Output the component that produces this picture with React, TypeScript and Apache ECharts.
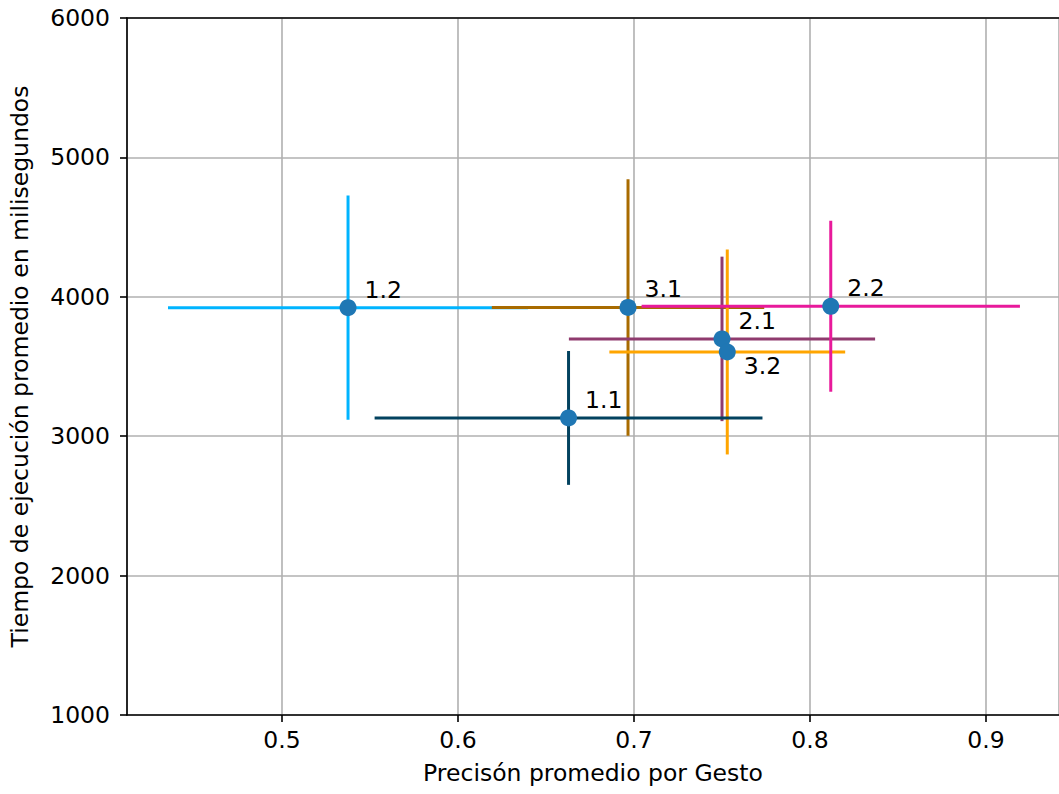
import React, { useEffect, useRef } from "react";
import * as echarts from "echarts";

const gestures = ["1.1", "1.2", "2.1", "2.2", "3.1", "3.2"];
const precision = [0.6628, 0.5375, 0.7500, 0.8118, 0.6966, 0.7530];
const precisionErr = [0.1102, 0.1023, 0.0870, 0.1075, 0.0774, 0.0670];
const timeMs = [3131, 3922, 3698, 3932, 3924, 3604];
const timeErr = [480, 804, 590, 613, 920, 735];
const barColors = ["#03425f", "#00b4ff", "#8f3b6e", "#e8199b", "#a86b00", "#ffa500"];
const drawOrder = [1, 4, 2, 5, 3, 0];
const yTicks = [1000, 6000];
const xRange = [0.4119, 0.9415];

const FONT = "DejaVu Sans";
const FS = 23.5;

export default function App() {
  const ref = useRef<HTMLDivElement>(null);
  useEffect(() => {
    if (!ref.current) return;
    const chart = echarts.init(ref.current, undefined, { renderer: "svg" });
    const series: any[] = [];
    drawOrder.forEach((i) => {
      const c = barColors[i];
      series.push({
        type: "line",
        name: gestures[i] + "-h",
        data: [
          [precision[i] - precisionErr[i], timeMs[i]],
          [precision[i] + precisionErr[i], timeMs[i]],
        ],
        symbol: "none",
        lineStyle: { color: c, width: 3 },
        itemStyle: { color: c },
        silent: true,
      });
      series.push({
        type: "line",
        name: gestures[i] + "-v",
        data: [
          [precision[i], timeMs[i] - timeErr[i]],
          [precision[i], timeMs[i] + timeErr[i]],
        ],
        symbol: "none",
        lineStyle: { color: c, width: 3 },
        itemStyle: { color: c },
        silent: true,
      });
    });
    series.push({
      type: "scatter",
      symbolSize: 17,
      itemStyle: { color: "#1f77b4", opacity: 1 },
      z: 5,
      data: gestures.map((g, i) => ({
        name: g,
        value: [precision[i], timeMs[i]],
        label: {
          show: true,
          position: "right",
          formatter: g,
          offset: g === "3.2" ? [3, 14] : [3, -18],
          fontFamily: FONT,
          fontSize: FS,
          color: "#000",
        },
      })),
    });

    chart.setOption({
      animation: false,
      textStyle: { fontFamily: FONT },
      grid: { left: 127, top: 18, right: 0, bottom: 79, containLabel: false },
      xAxis: [
        {
          type: "value",
          min: xRange[0],
          max: xRange[1],
          splitNumber: 5,
          name: "Precisón promedio por Gesto",
          nameLocation: "middle",
          nameGap: 46,
          nameTextStyle: { fontFamily: FONT, fontSize: FS, color: "#000" },
          axisLine: { show: true, lineStyle: { color: "#000", width: 1.6 } },
          axisTick: { show: true, inside: false, length: 7, lineStyle: { color: "#000", width: 1.6 } },
          axisLabel: {
            fontFamily: FONT,
            fontSize: FS,
            color: "#000",
            margin: 13,
            showMinLabel: false,
            showMaxLabel: false,
          },
          splitLine: { show: true, lineStyle: { color: "#b0b0b0", width: 1.6 } },
        },
        {
          type: "value",
          position: "top",
          min: xRange[0],
          max: xRange[1],
          axisLine: { show: true, lineStyle: { color: "#000", width: 1.6 } },
          axisTick: { show: false },
          axisLabel: { show: false },
          splitLine: { show: false },
        },
      ],
      yAxis: {
        type: "value",
        min: yTicks[0],
        max: yTicks[1],
        interval: 1000,
        name: "Tiempo de ejecución promedio en milisegundos",
        nameLocation: "middle",
        nameGap: 95,
        nameTextStyle: { fontFamily: FONT, fontSize: FS, color: "#000" },
        axisLine: { show: true, lineStyle: { color: "#000", width: 1.6 } },
        axisTick: { show: true, inside: false, length: 7, lineStyle: { color: "#000", width: 1.6 } },
        axisLabel: {
          fontFamily: FONT,
          fontSize: FS,
          color: "#000",
          margin: 17,
          formatter: (v: number) => String(v),
        },
        splitLine: { show: true, lineStyle: { color: "#b0b0b0", width: 1.6 } },
      },
      series,
    });
    return () => chart.dispose();
  }, []);
  return (
    <div
      ref={ref}
      style={{ position: "absolute", left: 0, top: 0, width: 1059, height: 794, background: "#fff" }}
    />
  );
}
